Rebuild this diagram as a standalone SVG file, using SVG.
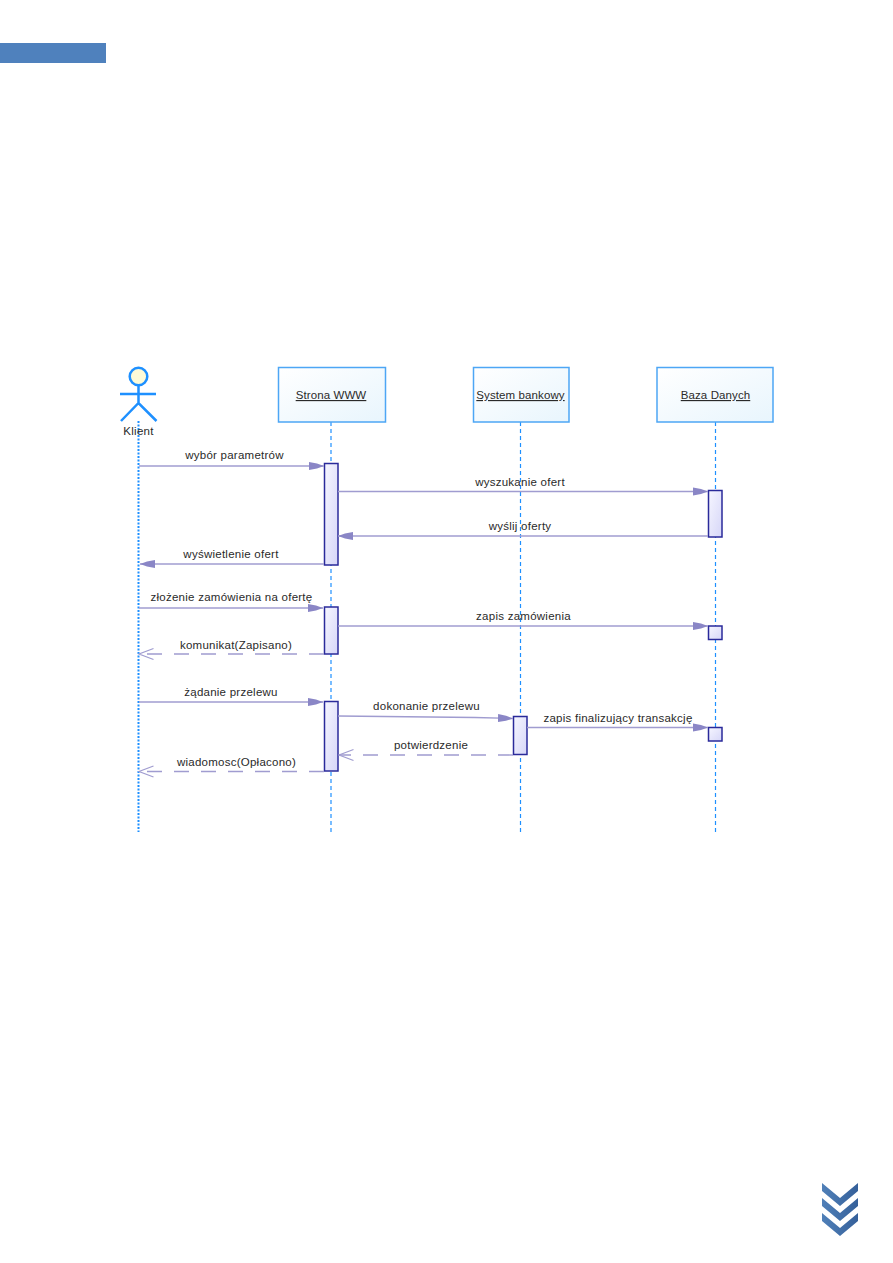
<svg xmlns="http://www.w3.org/2000/svg" width="893" height="1263" viewBox="0 0 893 1263">
<style>
text{font-family:"Liberation Sans",Arial,sans-serif;font-size:11.5px;letter-spacing:.25px;fill:#2a2a2a;text-anchor:middle}
.u{text-decoration:underline;letter-spacing:.1px}
.box{fill:url(#boxFill);stroke:#4da6f5;stroke-width:1.5}
.life{stroke:#1e90ff;stroke-width:1.2;stroke-dasharray:4 3;fill:none}
.dots{stroke-width:2;stroke-dasharray:2 1.500}
.act{fill:url(#actFill);stroke:#2a2a9a;stroke-width:1.5}
.msg{stroke:#a09cd0;stroke-width:1.4;fill:none}
.ret{stroke-dasharray:15 12}
.stick{stroke:#1e90ff;stroke-width:2.500;fill:none}
</style>
<defs>
<linearGradient id="boxFill" x1="0" y1="0" x2="1" y2="1"><stop offset="0" stop-color="#fff"/><stop offset="1" stop-color="#e8f5fd"/></linearGradient>
<linearGradient id="actFill" x1="0" y1="0" x2="1" y2="1"><stop offset="0" stop-color="#f6f6ff"/><stop offset="1" stop-color="#d6d6f8"/></linearGradient>
<linearGradient id="chev" x1="0" y1="0" x2="1" y2="0"><stop offset="0" stop-color="#5080b8"/><stop offset="1" stop-color="#35609a"/></linearGradient>
<marker id="solid" markerUnits="userSpaceOnUse" markerWidth="16" markerHeight="10" refX="15" refY="5" orient="auto"><path d="M0 1L8 2.500L15 5L8 7.500L0 9Z" fill="#8a86c6"/></marker>
<marker id="open" markerUnits="userSpaceOnUse" markerWidth="17" markerHeight="14" refX="15.500" refY="7" orient="auto"><path d="M1 1.500L15.500 7L1 12.500" fill="none" stroke="#a09cd0" stroke-width="1.200"/></marker>
<path id="chevron" d="M822 1183L840 1198L858 1183V1191L840 1206L822 1191Z" fill="url(#chev)"/>
</defs>
<rect width="893" height="1263" fill="#fff"/>
<rect id="header-bar" x="0" y="43" width="106" height="20" fill="#4f81bd"/>

<g id="lifelines">
<path class="life dots" d="M138.500 421V832"/>
<path class="life" d="M331 422V832"/>
<path class="life" d="M520.500 422V832"/>
<path class="life" d="M715.500 422V832"/>
</g>

<g id="klient">
<circle cx="138.500" cy="376.500" r="8.800" fill="#fdfbd8" stroke="#1e90ff" stroke-width="2.500"/>
<path class="stick" d="M138.500 385V403M120 394H156M121 421L138.500 403L156.500 421"/>
<text x="138.500" y="435">Klient</text>
</g>
<g id="strona-www"><rect class="box" x="278.500" y="367.500" width="107" height="54.500"/><text class="u" x="331" y="399">Strona WWW</text></g>
<g id="system-bankowy"><rect class="box" x="473.500" y="367.500" width="95.500" height="54.500"/><text class="u" x="520.500" y="399">System bankowy</text></g>
<g id="baza-danych"><rect class="box" x="657" y="367.500" width="116" height="54.500"/><text class="u" x="715.500" y="399">Baza Danych</text></g>

<g id="activations">
<rect class="act" x="324.500" y="463.500" width="13.500" height="101.500"/>
<rect class="act" x="324.500" y="607" width="13.500" height="47"/>
<rect class="act" x="324.500" y="701.500" width="13.500" height="69.500"/>
<rect class="act" x="513.500" y="716.500" width="13.500" height="38"/>
<rect class="act" x="708.500" y="490.500" width="13.500" height="46.500"/>
<rect class="act" x="708.500" y="626" width="13.500" height="13.500"/>
<rect class="act" x="708.500" y="727.500" width="13.500" height="13.500"/>
</g>

<g id="connectors">
<path class="msg" marker-end="url(#solid)" d="M139 466H324"/>
<path class="msg" marker-end="url(#solid)" d="M338 491.500H708"/>
<path class="msg" marker-end="url(#solid)" d="M708 536H338"/>
<path class="msg" marker-end="url(#solid)" d="M324 564H140"/>
<path class="msg" marker-end="url(#solid)" d="M139 608H323"/>
<path class="msg" marker-end="url(#solid)" d="M338 626H708"/>
<path class="msg ret" marker-end="url(#open)" d="M324 654H139"/>
<path class="msg" marker-end="url(#solid)" d="M139 702H323"/>
<path class="msg" marker-end="url(#solid)" d="M338 716L475 717.500L513 718.500"/>
<path class="msg" marker-end="url(#solid)" d="M527 727.500H708"/>
<path class="msg ret" marker-end="url(#open)" d="M513 755H339"/>
<path class="msg ret" marker-end="url(#open)" d="M324 771.500H139"/>
</g>

<g id="labels">
<text x="234.500" y="458.500">wybór parametrów</text>
<text x="520" y="485.500">wyszukanie ofert</text>
<text x="520" y="530">wyślij oferty</text>
<text x="231" y="558">wyświetlenie ofert</text>
<text x="231.500" y="601">złożenie zamówienia na ofertę</text>
<text x="523.500" y="620">zapis zamówienia</text>
<text x="236" y="648.500">komunikat(Zapisano)</text>
<text x="231" y="695.500">żądanie przelewu</text>
<text x="426.500" y="710">dokonanie przelewu</text>
<text x="618" y="722">zapis finalizujący transakcję</text>
<text x="431" y="749">potwierdzenie</text>
<text x="236.500" y="765.500">wiadomosc(Opłacono)</text>
</g>

<g id="page-chevrons">
<use href="#chevron"/>
<use href="#chevron" y="15"/>
<use href="#chevron" y="30"/>
</g>
</svg>
